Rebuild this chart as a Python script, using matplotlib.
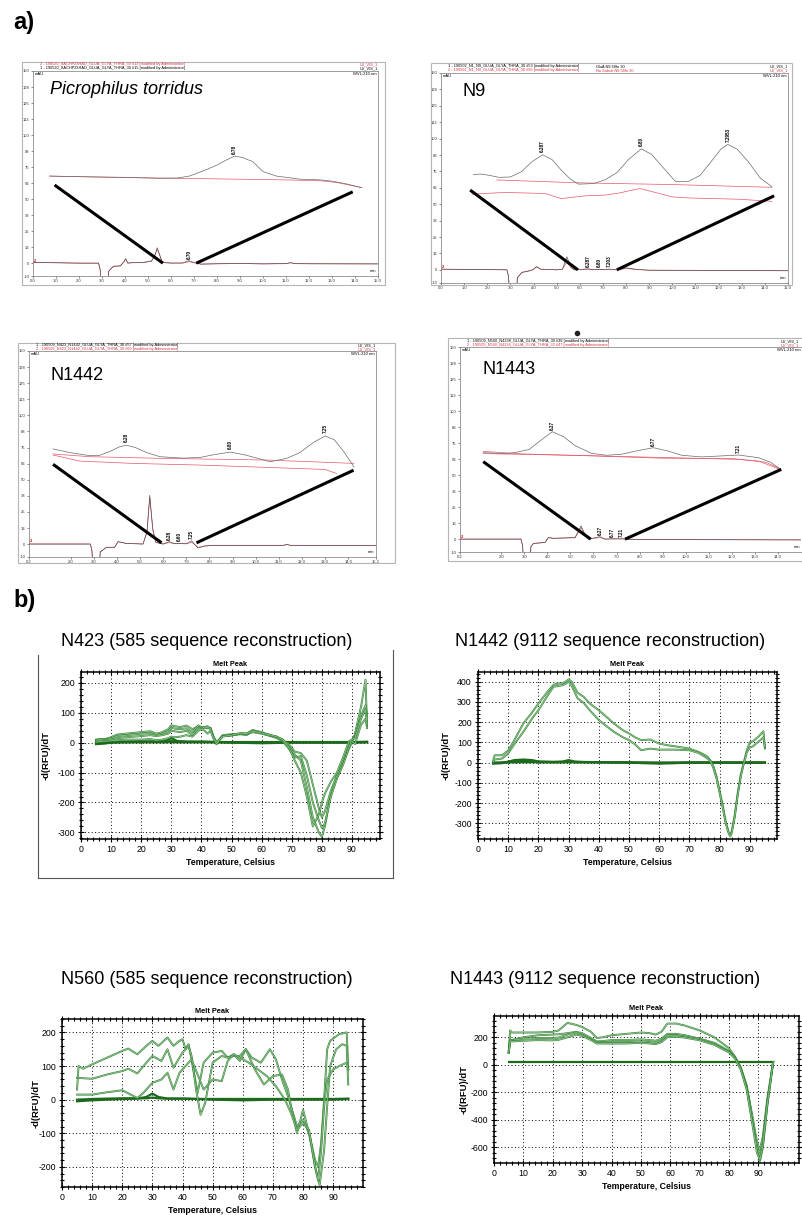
import matplotlib

matplotlib.use("Agg")
import matplotlib.pyplot as plt
from matplotlib.patches import Rectangle
from matplotlib.lines import Line2D
from matplotlib.ticker import MultipleLocator

plt.rcParams["font.family"] = ["Liberation Sans", "DejaVu Sans"]
plt.rcParams["axes.unicode_minus"] = False

W, H = 802, 1215

# ---------------- a) HPLC chromatograms ----------------
chrom_ytick_pos = [-10, 0, 12.5, 25, 37.5, 50, 62.5, 75, 87.5, 100, 112.5, 125, 137.5, 150]
chrom_ytick_lab = ["-10", "0", "13", "25", "38", "50", "63", "75", "88", "100", "113", "125", "138", "150"]

# Picrophilus torridus
pt_up_t = [0.72, 2, 4, 5.5, 6.3, 6.8, 7.25, 7.6, 8.0, 8.4, 8.77, 9.1, 9.56, 10.0, 10.58, 11.6, 12.5, 13.0, 13.6, 14.3]
pt_up_k = [68, 67.5, 67, 66.3, 66.5, 68, 71, 73.5, 76.6, 80.5, 83.6, 82.5, 79.2, 71.5, 68, 65.6, 65, 64, 62, 58.9]
pt_up_red_t = [0.72, 4, 8, 11, 12.5, 13.2, 14.3]
pt_up_red = [68, 66.8, 65.8, 65, 64.3, 63, 59]
pt_lo_t = [0, 1, 2, 2.85, 2.92, 3.0, 3.2, 3.3, 3.5, 3.8, 3.95, 4.03, 4.12, 4.3, 4.8, 5.15, 5.3, 5.4, 5.5, 5.62,
           6.0, 6.5, 6.78, 7.0, 7.3, 8, 9, 10, 11, 11.2, 11.4, 12, 15]
pt_lo_k = [0.5, 0.3, 0, 0, -5, -30, -25, -6, -2.5, -2, 1, 3.5, 0, 0.3, 0.5, 1.5, 6, 12, 7, 0.5,
           0, 0.2, 2, 0.5, -0.8, -0.5, -0.3, -0.5, -0.3, 0.3, -0.4, -0.5, -0.6]
pt_lo_red = [0.6, 0.4, 0.1, 0.1, -5, -30, -25, -6, -2.3, -2.2, 1.2, 3.2, 0.2, 0.5, 0.7, 1.8, 6.5, 11, 6.5, 0.8,
             0.2, 0.0, 1.2, 0.3, -0.6, -0.4, -0.2, -0.6, -0.4, 0.5, -0.3, -0.4, -0.5]
pt_peaks = [(8.77, 85.5, "6.78"), (6.78, 3.5, "6.70")]
pt_zoom = [([0.94, 5.65], [61, 0]), ([7.1, 13.9], [0, 55.7])]

# N9
n9_up_t = [1.4, 1.7, 2.1, 2.5, 3.0, 3.5, 3.9, 4.39, 4.8, 5.2, 5.6, 5.95, 6.6, 7.1, 7.6, 8.1, 8.66, 9.1, 9.6,
           10.13, 10.7, 11.2, 11.7, 12.1, 12.4, 12.8, 13.3, 13.8, 14.3]
n9_up_k = [72.6, 73, 72, 70.5, 70.8, 75, 82, 87.7, 84, 76, 69, 65.3, 65.8, 68.7, 74, 84, 92.2, 88, 78,
           67.4, 67.4, 72, 83, 92, 95.6, 92, 82, 70, 63.4]
n9_up_red_t = [2.4, 6, 10, 14.3]
n9_up_red = [68.5, 66.3, 65, 62.9]
n9_up_red2_t = [1.33, 2.77, 4.5, 5.2, 6.23, 7.1, 7.68, 8.6, 10.0, 10.7, 12.9, 14.3]
n9_up_red2 = [57.7, 59, 58.2, 54.3, 56.4, 57, 58.5, 62, 55.6, 54.8, 53.8, 52.2]
n9_lo_t = [0, 2.85, 2.92, 3.0, 3.25, 3.3, 3.5, 3.9, 4.0, 4.14, 4.3, 5.0, 5.25, 5.44, 5.6, 5.75, 6.35, 6.6,
           6.84, 7.05, 7.27, 7.6, 8.0, 8.5, 9, 15]
n9_lo_k = [0.5, 0, -5, -30, -25, -6, -2, -0.5, 0.5, 2.5, 0.5, 0, 0.5, 10, 3, 0, 0.8, 0.2,
           0.5, 0.1, 0.6, 0, 1.5, 0.3, -0.3, -0.7]
n9_lo_red = [0.6, 0.1, -5, -30, -25, -6, -1.8, -0.3, 0.6, 2.2, 0.6, 0.1, 0.4, 6, 2, 0.2, 0.2, 0.1,
             0.2, 0.1, 0.2, 0.1, 1.0, 0.2, -0.2, -0.6]
n9_peaks = [(4.39, 89.5, "6.287"), (8.66, 94, "6.80"), (12.4, 97.5, "7.2953"),
            (6.35, 2.5, "6.287"), (6.84, 2.5, "6.80"), (7.27, 2.5, "7.203")]
n9_zoom = [([1.26, 5.92], [60.8, 0]), ([7.6, 14.4], [0, 56.4])]

# N1442
n1442_up_t = [1.24, 2, 2.83, 3.26, 3.7, 4.1, 4.41, 4.8, 5.3, 5.86, 6.87, 7.59, 8.2, 8.92, 9.6, 10.62, 11.34,
              11.9, 12.5, 13.0, 13.4, 13.8, 14.25]
n1442_up_k = [73.9, 71, 68.7, 69, 72, 75.5, 76.8, 75, 71, 67.9, 66.8, 67.3, 69.5, 71.5, 69, 64, 66.6,
              71, 79, 84, 81, 72, 60]
n1442_up_red_t = [1.24, 2.83, 6, 10.5, 14.25]
n1442_up_red = [70, 67.9, 66.6, 65.3, 62.7]
n1442_up_red2_t = [1.24, 2.39, 4.7, 7.6, 11.9, 13.0, 13.5]
n1442_up_red2 = [69.2, 64.5, 62.7, 61.4, 58.7, 58, 54.8]
n1442_lo_t = [0.2, 2.85, 2.92, 3.0, 3.22, 3.28, 3.55, 3.9, 4.05, 4.4, 5.13, 5.3, 5.42, 5.55, 5.68, 6.0,
              6.26, 6.5, 6.72, 7.0, 7.23, 7.35, 7.51, 7.8, 8.2, 11.2, 11.35, 11.5, 15.2]
n1442_lo_k = [0, 0, -5, -30, -25, -6, -2.6, -2.6, 2, 0.5, 0, 10, 38, 12, 1.3, 0,
              2, 0.3, 0.6, 0.3, 2.6, 0, -3, -1.5, -1, -1, -0.2, -1, -1.2]
n1442_lo_red = [0.2, 0.2, -5, -30, -25, -6, -2.4, -2.4, 1.8, 0.6, 0.2, 9, 36, 11, 1.5, 0.2,
                1.2, 0.3, 0.4, 0.2, 1.5, -0.2, -2.6, -1.3, -0.9, -0.9, -0.3, -0.9, -1.1]
n1442_peaks = [(4.41, 79, "6.28"), (8.92, 73.5, "6.80"), (13.0, 86, "7.25"),
               (6.26, 3.5, "6.28"), (6.72, 2.5, "6.60"), (7.23, 4, "7.25")]
n1442_zoom = [([1.24, 5.93], [62, 1]), ([7.44, 14.23], [1, 57.4])]

# N1443
n1443_up_t = [1.21, 2.16, 2.59, 3.2, 3.7, 4.21, 4.7, 5.2, 5.92, 6.57, 7.22, 7.9, 8.6, 9.2, 9.83, 10.7,
              11.57, 12.3, 13.17, 13.7, 14.1]
n1443_up_k = [67.5, 66.8, 67.6, 70, 77, 83.9, 80, 73, 67, 65.5, 66.3, 69, 71.4, 69, 65.5, 64.2,
              65, 65.7, 63.6, 60, 55]
n1443_up_red_t = [1.21, 5, 9.4, 12.3, 13.17, 14.1]
n1443_up_red = [66.8, 65.5, 63.6, 62.3, 61, 54.5]
n1443_up_red2_t = [1.21, 3, 6, 9, 12, 13.5, 14.1]
n1443_up_red2 = [68.5, 66.5, 65, 63.2, 63, 60, 55]
n1443_lo_t = [0.2, 2.85, 2.92, 3.0, 3.22, 3.28, 3.39, 3.9, 4.04, 4.26, 5.2, 5.46, 5.65, 5.78, 6.28, 6.5,
              6.82, 7.22, 7.5, 8, 15]
n1443_lo_k = [0, 0, -5, -30, -25, -6, -3.4, -2.6, 1.3, 0.6, 1.3, 10.4, 3, 0, 2, 0,
              0.3, 0.3, 0, -0.3, -0.6]
n1443_lo_red = [0.2, 0.2, -5, -30, -25, -6, -3.2, -2.4, 1.1, 0.8, 1.1, 9, 2.5, 0.2, 1.2, 0.2,
                0.2, 0.2, 0.1, -0.2, -0.5]
n1443_peaks = [(4.21, 85.5, "6.27"), (8.6, 73, "6.77"), (12.3, 67.5, "7.21"),
               (6.28, 3.5, "6.27"), (6.82, 2, "6.77"), (7.22, 2, "7.21")]
n1443_zoom = [([1.21, 5.88], [60.5, 0]), ([7.37, 14.16], [0, 54.5])]

# ---------------- b) melt peaks ----------------
melt_xticks = [0, 10, 20, 30, 40, 50, 60, 70, 80, 90]

n423_T = [5, 6, 8, 10, 12, 15, 20, 23, 25, 27, 29, 30, 31, 33, 35, 37, 39, 40, 41, 42, 43, 44, 45, 46, 47,
          50, 53, 55, 57, 60, 62, 65, 67, 69, 71, 73, 75, 77, 79, 80, 81, 83, 85, 87, 89, 90, 91, 93, 94.5, 95]
n423_c1 = [10, 12, 12, 18, 27, 30, 35, 38, 30, 35, 45, 58, 55, 52, 57, 45, 55, 50, 52, 48, 50, 20, 0, 10, 25,
           28, 30, 30, 42, 35, 28, 18, 10, -10, -40, -60, -150, -250, -300, -315, -280, -170, -110, -70, -20, 0, 30, 120, 210, 50]
n423_c2 = [8, 10, 10, 14, 22, 25, 30, 32, 25, 30, 38, 50, 47, 45, 48, 35, 58, 52, 50, 55, 45, 15, -5, 8, 22,
           25, 28, 25, 40, 32, 25, 15, 5, -20, -50, -45, -110, -200, -260, -285, -270, -180, -120, -75, -15, 10, 20, 90, 125, 90]
n423_c3 = [5, 6, 8, 10, 15, 18, 22, 25, 22, 25, 30, 40, 38, 35, 40, 25, 50, 45, 52, 50, 48, 18, 2, 12, 22,
           24, 30, 28, 35, 30, 25, 20, 8, -5, -30, -35, -60, -140, -220, -250, -230, -160, -110, -60, 0, 5, -5, 60, 80, 50]
n423_c4 = [2, 3, 5, 6, 8, 10, 10, 12, 8, 10, 15, 20, 18, 20, 25, 20, 40, 45, 40, 30, 40, 15, -5, 10, 20,
           25, 32, 30, 38, 32, 28, 20, 10, -15, -60, -100, -180, -280, -240, -200, -170, -130, -100, -50, 5, 10, 15, 80, 110, 60]
n423_flat_T = [5, 8, 10, 15, 20, 25, 28, 30, 32, 35, 40, 45, 50, 60, 70, 80, 90, 95]
n423_f1 = [-5, -3, 0, 2, 3, 3, 5, 15, 5, 3, 3, 2, 0, -2, 0, 0, 0, 2]
n423_f2 = [-3, 0, 2, 3, 4, 4, 4, 5, 4, 3, 3, 2, 2, 2, 2, 2, 2, 3]
n423_f3 = [0, 1, 1, 1, 1, 1, 1, 2, 1, 1, 1, 1, 1, 1, 1, 1, 1, 1]

n1442_T = [5, 5.5, 8, 10, 12, 15, 18, 20, 23, 25, 27, 28, 29, 30, 31, 33, 35, 37, 40, 43, 45, 48, 50, 52, 54,
           57, 60, 63, 65, 70, 73, 75, 76, 77, 78, 79, 80, 81, 82, 83, 83.5, 84, 85, 86, 87, 88, 89, 90, 91, 93, 94.5, 95]
n1442_c1 = [5, 36, 36, 60, 110, 193, 250, 292, 350, 385, 392, 392, 400, 412, 400, 345, 325, 292, 259, 220, 193, 160, 144, 125, 111,
            114, 94, 85, 81, 69, 53, 38, 28, 10, -21, -70, -140, -210, -290, -345, -360, -340, -260, -150, -60, 0, 60, 100, 105, 130, 155, 70]
n1442_c2 = [3, 15, 20, 45, 90, 152, 220, 259, 330, 375, 380, 383, 390, 400, 380, 317, 295, 259, 210, 175, 152, 125, 111, 90, 61,
            69, 64, 64, 64, 61, 48, 30, 20, 5, -30, -80, -150, -220, -300, -350, -365, -350, -270, -160, -70, -5, 50, 75, 80, 105, 125, 75]
n1442_flat_T = [5, 8, 10, 12, 15, 18, 20, 25, 28, 30, 32, 35, 40, 50, 55, 60, 65, 70, 80, 90, 95]
n1442_f1 = [-5, -3, 5, 12, 15, 12, 5, 3, 5, 12, 5, 3, 2, 0, -3, -5, -3, 0, 0, 0, 0]
n1442_f2 = [-3, 0, 2, 5, 8, 6, 4, 3, 3, 8, 3, 2, 2, 1, 0, -2, -1, 0, 0, 0, 0]
n1442_f3 = [0, 0, 1, 1, 2, 2, 1, 1, 1, 2, 1, 1, 1, 0, 0, 0, 0, 0, 0, 0, 0]

n560_T1 = [5, 5.5, 7, 10, 15, 20, 22, 25, 28, 30, 32, 35, 37, 39, 40, 41, 42, 43, 45, 47, 50, 53, 55, 57, 59,
           61, 63, 66, 69, 71, 73, 75, 76, 78, 80, 82, 84, 85, 86, 87, 88, 89, 92, 94.5, 95]
n560_c1 = [30, 100, 92, 105, 125, 145, 152, 135, 160, 175, 160, 185, 160, 175, 180, 150, 165, 120, 20, 110, 140, 145, 125, 135, 115,
           150, 125, 110, 150, 120, 60, 10, -20, -80, -60, -100, -180, -200, -130, 0, 150, 175, 195, 200, 90]
n560_T2 = [5, 10, 15, 20, 22, 25, 28, 30, 33, 35, 37, 40, 42, 43, 44.5, 46, 47.5, 50, 53, 55, 57, 59, 61, 64,
           67, 70, 73, 75, 76, 78, 80, 82, 84, 85.5, 87, 88, 89, 91, 93, 94.5, 95]
n560_c2 = [65, 62, 75, 85, 92, 78, 110, 130, 115, 150, 95, 140, 160, 130, 30, -45, -10, 110, 130, 125, 130, 130, 150, 90,
           45, 70, 75, 30, -20, -100, -30, -100, -200, -255, -150, -20, 100, 150, 165, 160, 45]
n560_T3 = [5, 10, 15, 20, 25, 27, 30, 33, 35, 37, 39, 41, 43, 45, 47, 50, 53, 55, 57, 60, 62, 65, 68, 71, 74,
           76, 78, 80, 82, 84, 85, 86, 87, 88, 90, 92, 94.5, 95]
n560_c3 = [15, 15, 22, 28, 5, 20, 50, 60, 80, 30, 80, 100, 120, 75, 30, 60, 55, 115, 135, 120, 110, 90, 70, 40, 0,
           -40, -90, -70, -90, -200, -240, -150, -20, 60, 90, 100, 110, 90]
n560_flat_T = [5, 8, 10, 15, 20, 25, 28, 30, 32, 35, 40, 45, 50, 60, 70, 80, 90, 95]
n560_f1 = [-5, -3, -2, 0, 2, 3, 8, 18, 8, 3, 3, 2, 0, -2, 0, 0, 0, 2]
n560_f2 = [0, 1, 2, 3, 4, 4, 4, 6, 4, 3, 3, 2, 2, 2, 2, 2, 2, 3]

n1443_T = [5, 5.5, 6, 10, 15, 20, 22, 25, 28, 30, 33, 35, 37, 40, 45, 50, 53, 55, 57, 59, 62, 65, 70, 75, 80,
           82, 84, 86, 88, 89.5, 90.5, 91.5, 93, 95]
n1443_c1 = [90, 250, 235, 235, 235, 240, 250, 305, 290, 275, 240, 195, 200, 215, 225, 235, 230, 220, 240, 300, 300, 285, 250, 200, 120,
            60, -20, -150, -400, -600, -700, -600, -300, 20]
n1443_c2 = [90, 185, 180, 200, 215, 220, 222, 230, 240, 230, 195, 170, 172, 180, 180, 185, 180, 175, 190, 225, 225, 215, 190, 160, 100,
            55, -25, -160, -380, -560, -620, -520, -250, 20]
n1443_c3 = [90, 180, 178, 190, 195, 195, 198, 220, 235, 220, 185, 165, 165, 165, 165, 170, 165, 160, 175, 215, 215, 205, 185, 150, 95,
            50, -30, -170, -420, -600, -660, -560, -270, 20]
n1443_c4 = [90, 172, 170, 175, 180, 178, 182, 200, 220, 210, 180, 155, 155, 155, 155, 160, 155, 150, 165, 200, 205, 198, 178, 145, 90,
            45, -35, -180, -440, -640, -690, -590, -290, 20]
n1443_flat_T = [5, 95]
n1443_f1 = [24, 24]


def box(l, t, r, b):
    return [l / W, 1 - b / H, (r - l) / W, (b - t) / H]


fig = plt.figure(figsize=(W / 100, H / 100), dpi=100)

fig.text(13 / W, 1 - 22 / H, "a)", fontsize=17, fontweight="bold", va="center")
fig.text(13 / W, 1 - 600 / H, "b)", fontsize=17, fontweight="bold", va="center")

BLACK = "#4a4a4a"
RED = "#e4586a"
HRED = "#e03040"


def chrom(frame, area, xlim, xticks, xlabels, name, italic, name_xy, hdr_k, hdr_r, mid_k, mid_r,
          up_t, up_k, up_red_t, up_red, up_red2_t, up_red2, lo_t, lo_k, lo_red, peaks, zoom):
    fig.add_artist(Rectangle((frame[0] / W, 1 - frame[3] / H), (frame[2] - frame[0]) / W,
                             (frame[3] - frame[1]) / H, transform=fig.transFigure,
                             fill=False, ec="#b5b5b5", lw=0.8))
    ax = fig.add_axes(box(*area))
    ax.plot(lo_t, lo_red, color=RED, lw=0.5)
    ax.plot(lo_t, lo_k, color=BLACK, lw=0.45)
    ax.plot(up_red_t, up_red, color=RED, lw=0.5)
    if up_red2_t:
        ax.plot(up_red2_t, up_red2, color=RED, lw=0.5)
    ax.plot(up_t, up_k, color="#6a6a6a", lw=0.5)
    for xs, ys in zoom:
        ax.plot(xs, ys, color="black", lw=2.2, solid_capstyle="butt")
    for px_, py_, lab in peaks:
        ax.text(px_, py_, lab, rotation=90, fontsize=3.3, ha="center", va="bottom", fontweight="bold")
    ax.set_xlim(*xlim)
    ax.set_ylim(-10, 150)
    ax.set_xticks(xticks)
    ax.set_xticklabels(xlabels)
    ax.set_yticks(chrom_ytick_pos)
    ax.set_yticklabels(chrom_ytick_lab)
    ax.tick_params(labelsize=3, length=1.5, width=0.4, pad=1, colors="#333333")
    for s in ax.spines.values():
        s.set_linewidth(0.5)
        s.set_color("#777777")
    ax.text(0.004, 0.995, "mAU", transform=ax.transAxes, fontsize=3, va="top", ha="left")
    ax.text(0.996, 0.995, "WVL:210 nm", transform=ax.transAxes, fontsize=3, va="top", ha="right")
    ax.text(0.996, 0.015, "min", transform=ax.transAxes, fontsize=3, va="bottom", ha="right")
    ax.text(xlim[0] + 0.05, 0.5, "2", color="#cc0000", fontsize=3, fontweight="bold", va="bottom")
    # header lines above the plot area
    x0 = (area[0] + 7) / W
    fig.text(x0, 1 - hdr_k[1] / H, hdr_k[0], fontsize=2.8, color="black", va="center")
    fig.text(x0, 1 - hdr_r[1] / H, hdr_r[0], fontsize=2.8, color=HRED, va="center")
    if mid_k:
        fig.text((area[0] + 155) / W, 1 - hdr_k[1] / H, mid_k, fontsize=2.8, color="black", va="center")
        fig.text((area[0] + 155) / W, 1 - hdr_r[1] / H, mid_r, fontsize=2.8, color=HRED, va="center")
    fig.text(min(area[2], 799) / W, 1 - hdr_k[1] / H, "UV_VIS_1", fontsize=2.8, color="black", va="center", ha="right")
    fig.text(min(area[2], 799) / W, 1 - hdr_r[1] / H, "UV_VIS_1", fontsize=2.8, color=HRED, va="center", ha="right")
    fig.text(name_xy[0] / W, 1 - name_xy[1] / H, name, fontsize=13, style="italic" if italic else "normal",
             va="center", ha="left")
    return ax


x15 = [i for i in range(16)]
x15_lab = [f"{i:.1f}" for i in range(16)]
x152 = [0.2] + list(range(2, 15)) + [15.2]
x152_lab = ["0.2"] + [f"{i:.1f}" for i in range(2, 15)] + ["15.2"]
x14 = [0.2] + list(range(2, 15))
x14_lab = ["0.2"] + [f"{i:.1f}" for i in range(2, 15)]

chrom((22, 62, 385, 285), (33, 71, 378, 276), (0, 15), x15, x15_lab, "Picrophilus torridus", True, (50, 90),
      ("1 - 190520_SACHP23HAD_GLUA_GLYA_THRA_30 #15 [modified by Administrator]", 68.5),
      ("2 - 190520_SACHP23HAD_GLUA_GLYA_THRA_30 #13 [modified by Administrator]", 64.5), None, None,
      pt_up_t, pt_up_k, pt_up_red_t, pt_up_red, None, None, pt_lo_t, pt_lo_k, pt_lo_red, pt_peaks, pt_zoom)
chrom((431, 63, 792, 285), (441, 73, 788, 283), (0, 15), x15, x15_lab, "N9", False, (462, 92),
      ("1 - 190502_N1_N9_GLUA_GLYA_THRA_30 #53 [modified by Administrator]", 66.5),
      ("2 - 190502_N1_N9_GLUA_GLYA_THRA_30 #56 [modified by Administrator]", 70.5),
      "GluA N9 58hr 30", "No Substr N9 58hr 30",
      n9_up_t, n9_up_k, n9_up_red_t, n9_up_red, n9_up_red2_t, n9_up_red2, n9_lo_t, n9_lo_k, n9_lo_red, n9_peaks, n9_zoom)
chrom((18, 343, 395, 563), (29, 351, 376, 557), (0.2, 15.2), x152, x152_lab, "N1442", False, (50, 375),
      ("1 - 190509_N423_N1442_GLUA_GLYA_THRA_30 #57 [modified by Administrator]", 345),
      ("2 - 190509_N423_N1442_GLUA_GLYA_THRA_30 #60 [modified by Administrator]", 349),
      None, None,
      n1442_up_t, n1442_up_k, n1442_up_red_t, n1442_up_red, n1442_up_red2_t, n1442_up_red2,
      n1442_lo_t, n1442_lo_k, n1442_lo_red, n1442_peaks, n1442_zoom)
chrom((448, 338, 812, 561), (460, 347, 802, 552), (0.2, 15.06), x14, x14_lab, "N1443", False, (483, 370),
      ("1 - 190509_N560_N4238_GLUA_GLYA_THRA_30 #36 [modified by Administrator]", 341),
      ("2 - 190509_N560_N4238_GLUA_GLYA_THRA_30 #47 [modified by Administrator]", 345),
      None, None,
      n1443_up_t, n1443_up_k, n1443_up_red_t, n1443_up_red, n1443_up_red2_t, n1443_up_red2,
      n1443_lo_t, n1443_lo_k, n1443_lo_red, n1443_peaks, n1443_zoom)
fig.add_artist(Line2D([577 / W], [1 - 333 / H], marker="o", ms=3, mfc="#222222", mec="#222222",
                      transform=fig.transFigure))

# ---------------- melt peak panels ----------------
DARK = "#1d6a1d"


def melt(area, xmax, ylim, yticks, ymin_step, ylab_x, curves, flats):
    ax = fig.add_axes(box(*area))
    for T, v in flats:
        ax.plot(T, v, color=DARK, lw=1.6)
    for T, v in curves:
        ax.plot(T, v, color="#2f7d2f", lw=1.4, alpha=0.9)
        ax.plot(T, v, color="#9bcf9b", lw=0.5)
    ax.set_xlim(0, xmax)
    ax.set_ylim(*ylim)
    ax.set_xticks(melt_xticks)
    ax.set_yticks(yticks)
    ax.xaxis.set_minor_locator(MultipleLocator(2))
    ax.yaxis.set_minor_locator(MultipleLocator(ymin_step))
    ax.grid(True, which="major", ls=(0, (1, 2.5)), color="black", lw=0.7)
    ax.tick_params(which="both", direction="inout", top=True, right=True, labelsize=6.3, width=0.8, pad=2.5)
    ax.tick_params(which="major", length=4)
    ax.tick_params(which="minor", length=2.5)
    for s in ax.spines.values():
        s.set_linewidth(1.1)
    ax.set_xlabel("Temperature, Celsius", fontsize=6.3, fontweight="bold", labelpad=3)
    ax.set_title("Melt Peak", fontsize=5.3, fontweight="bold", pad=4)
    fig.text(ylab_x / W, 1 - (area[1] + area[3]) / 2 / H, "-d(RFU)/dT", rotation=90, fontsize=6.8,
             fontweight="bold", ha="center", va="center")
    return ax


fig.text(207 / W, 1 - 641 / H, "N423 (585 sequence reconstruction)", fontsize=13, ha="center", va="center")
fig.text(610 / W, 1 - 641 / H, "N1442 (9112 sequence reconstruction)", fontsize=13, ha="center", va="center")
fig.text(207 / W, 1 - 979 / H, "N560 (585 sequence reconstruction)", fontsize=13, ha="center", va="center")
fig.text(605 / W, 1 - 979 / H, "N1443 (9112 sequence reconstruction)", fontsize=13, ha="center", va="center")

melt((81, 672, 380, 839), 99.3, (-322, 236), [-300, -200, -100, 0, 100, 200], 20, 46,
     [(n423_T, n423_c1), (n423_T, n423_c2), (n423_T, n423_c3), (n423_T, n423_c4)],
     [(n423_flat_T, n423_f1), (n423_flat_T, n423_f2), (n423_flat_T, n423_f3)])
# frame lines around first melt panel
for xs, ys in (([38, 38], [655, 878]), ([38, 393], [878, 878]), ([393, 393], [650, 878])):
    fig.add_artist(Line2D([x / W for x in xs], [1 - y / H for y in ys], color="#555555", lw=0.8,
                          transform=fig.transFigure))

melt((478, 672, 777, 839), 99, (-378, 448), [-300, -200, -100, 0, 100, 200, 300, 400], 20, 446,
     [(n1442_T, n1442_c1), (n1442_T, n1442_c2)],
     [(n1442_flat_T, n1442_f1), (n1442_flat_T, n1442_f2), (n1442_flat_T, n1442_f3)])

melt((62, 1019, 363, 1187), 99.9, (-260, 240), [-200, -100, 0, 100, 200], 20, 36,
     [(n560_T1, n560_c1), (n560_T2, n560_c2), (n560_T3, n560_c3)],
     [(n560_flat_T, n560_f1), (n560_flat_T, n560_f2)])

melt((494, 1016, 799, 1163), 103.8, (-714, 355), [-600, -400, -200, 0, 200], 40, 464,
     [(n1443_T, n1443_c1), (n1443_T, n1443_c2), (n1443_T, n1443_c3), (n1443_T, n1443_c4)],
     [(n1443_flat_T, n1443_f1)])

fig.savefig("out.png", dpi=100, facecolor="white")
